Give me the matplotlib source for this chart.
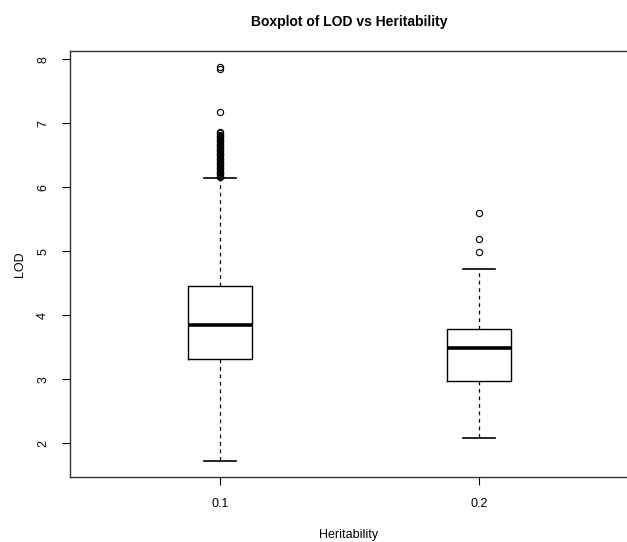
import matplotlib
matplotlib.use("Agg")
import matplotlib.pyplot as plt

plt.rcParams['font.family'] = ['Liberation Sans', 'DejaVu Sans']

# Data
groups = ['0.1', '0.2']
q1 = [3.31, 2.98]
medians = [3.84, 3.49]
q3 = [4.45, 3.78]
whislo = [1.72, 2.08]
whishi = [6.14, 4.72]
fliers_01 = [7.88, 7.84, 7.17,
             6.86, 6.84, 6.82, 6.80, 6.78, 6.76, 6.74, 6.72, 6.70, 6.68,
             6.66, 6.64, 6.62, 6.60, 6.58, 6.56, 6.54, 6.52, 6.50, 6.48,
             6.46, 6.44, 6.42, 6.40, 6.38, 6.36, 6.34, 6.32, 6.30, 6.28,
             6.26, 6.24, 6.22, 6.20, 6.18, 6.16]
fliers_02 = [5.59, 5.19, 4.98]
fliers = [fliers_01, fliers_02]

stats = []
for i in range(len(groups)):
    stats.append(dict(label=groups[i], med=medians[i], q1=q1[i], q3=q3[i],
                      whislo=whislo[i], whishi=whishi[i], fliers=fliers[i]))

fig = plt.figure(figsize=(6.27, 5.42), dpi=100)
ax = fig.add_axes([70/627, 65/542, 559/627, 426/542])

ax.bxp(stats, positions=[1, 2], widths=0.25,
       boxprops=dict(color='black', lw=1),
       medianprops=dict(color='black', lw=2.6),
       whiskerprops=dict(color='black', lw=0.9, linestyle=(0, (3, 3))),
       capprops=dict(color='black', lw=1.2),
       flierprops=dict(marker='o', markerfacecolor='none', markeredgecolor='black',
                       markersize=4.5, markeredgewidth=0.8),
       capwidths=0.125)

ax.set_xlim(0.42, 2.58)
ax.set_ylim(1.474, 8.126)
ax.set_yticks([2, 3, 4, 5, 6, 7, 8])
ax.set_yticklabels(['2', '3', '4', '5', '6', '7', '8'], rotation=90, va='center')
ax.set_xticks([1, 2])
ax.set_xticklabels(groups)
ax.tick_params(labelsize=9, length=6, width=0.8, color='black', pad=9)
for s in ax.spines.values():
    s.set_linewidth(1)
    s.set_color('#333333')

fig.text(349/627, 1 - 22/542, 'Boxplot of LOD vs Heritability', fontsize=10,
         fontweight='bold', ha='center', va='center')
fig.text(349/627, 1 - 535/542, 'Heritability', fontsize=9, ha='center', va='center')
fig.text(20/627, 1 - 264/542, 'LOD', fontsize=9, ha='center', va='center', rotation=90)

fig.savefig('out.png', dpi=100)
